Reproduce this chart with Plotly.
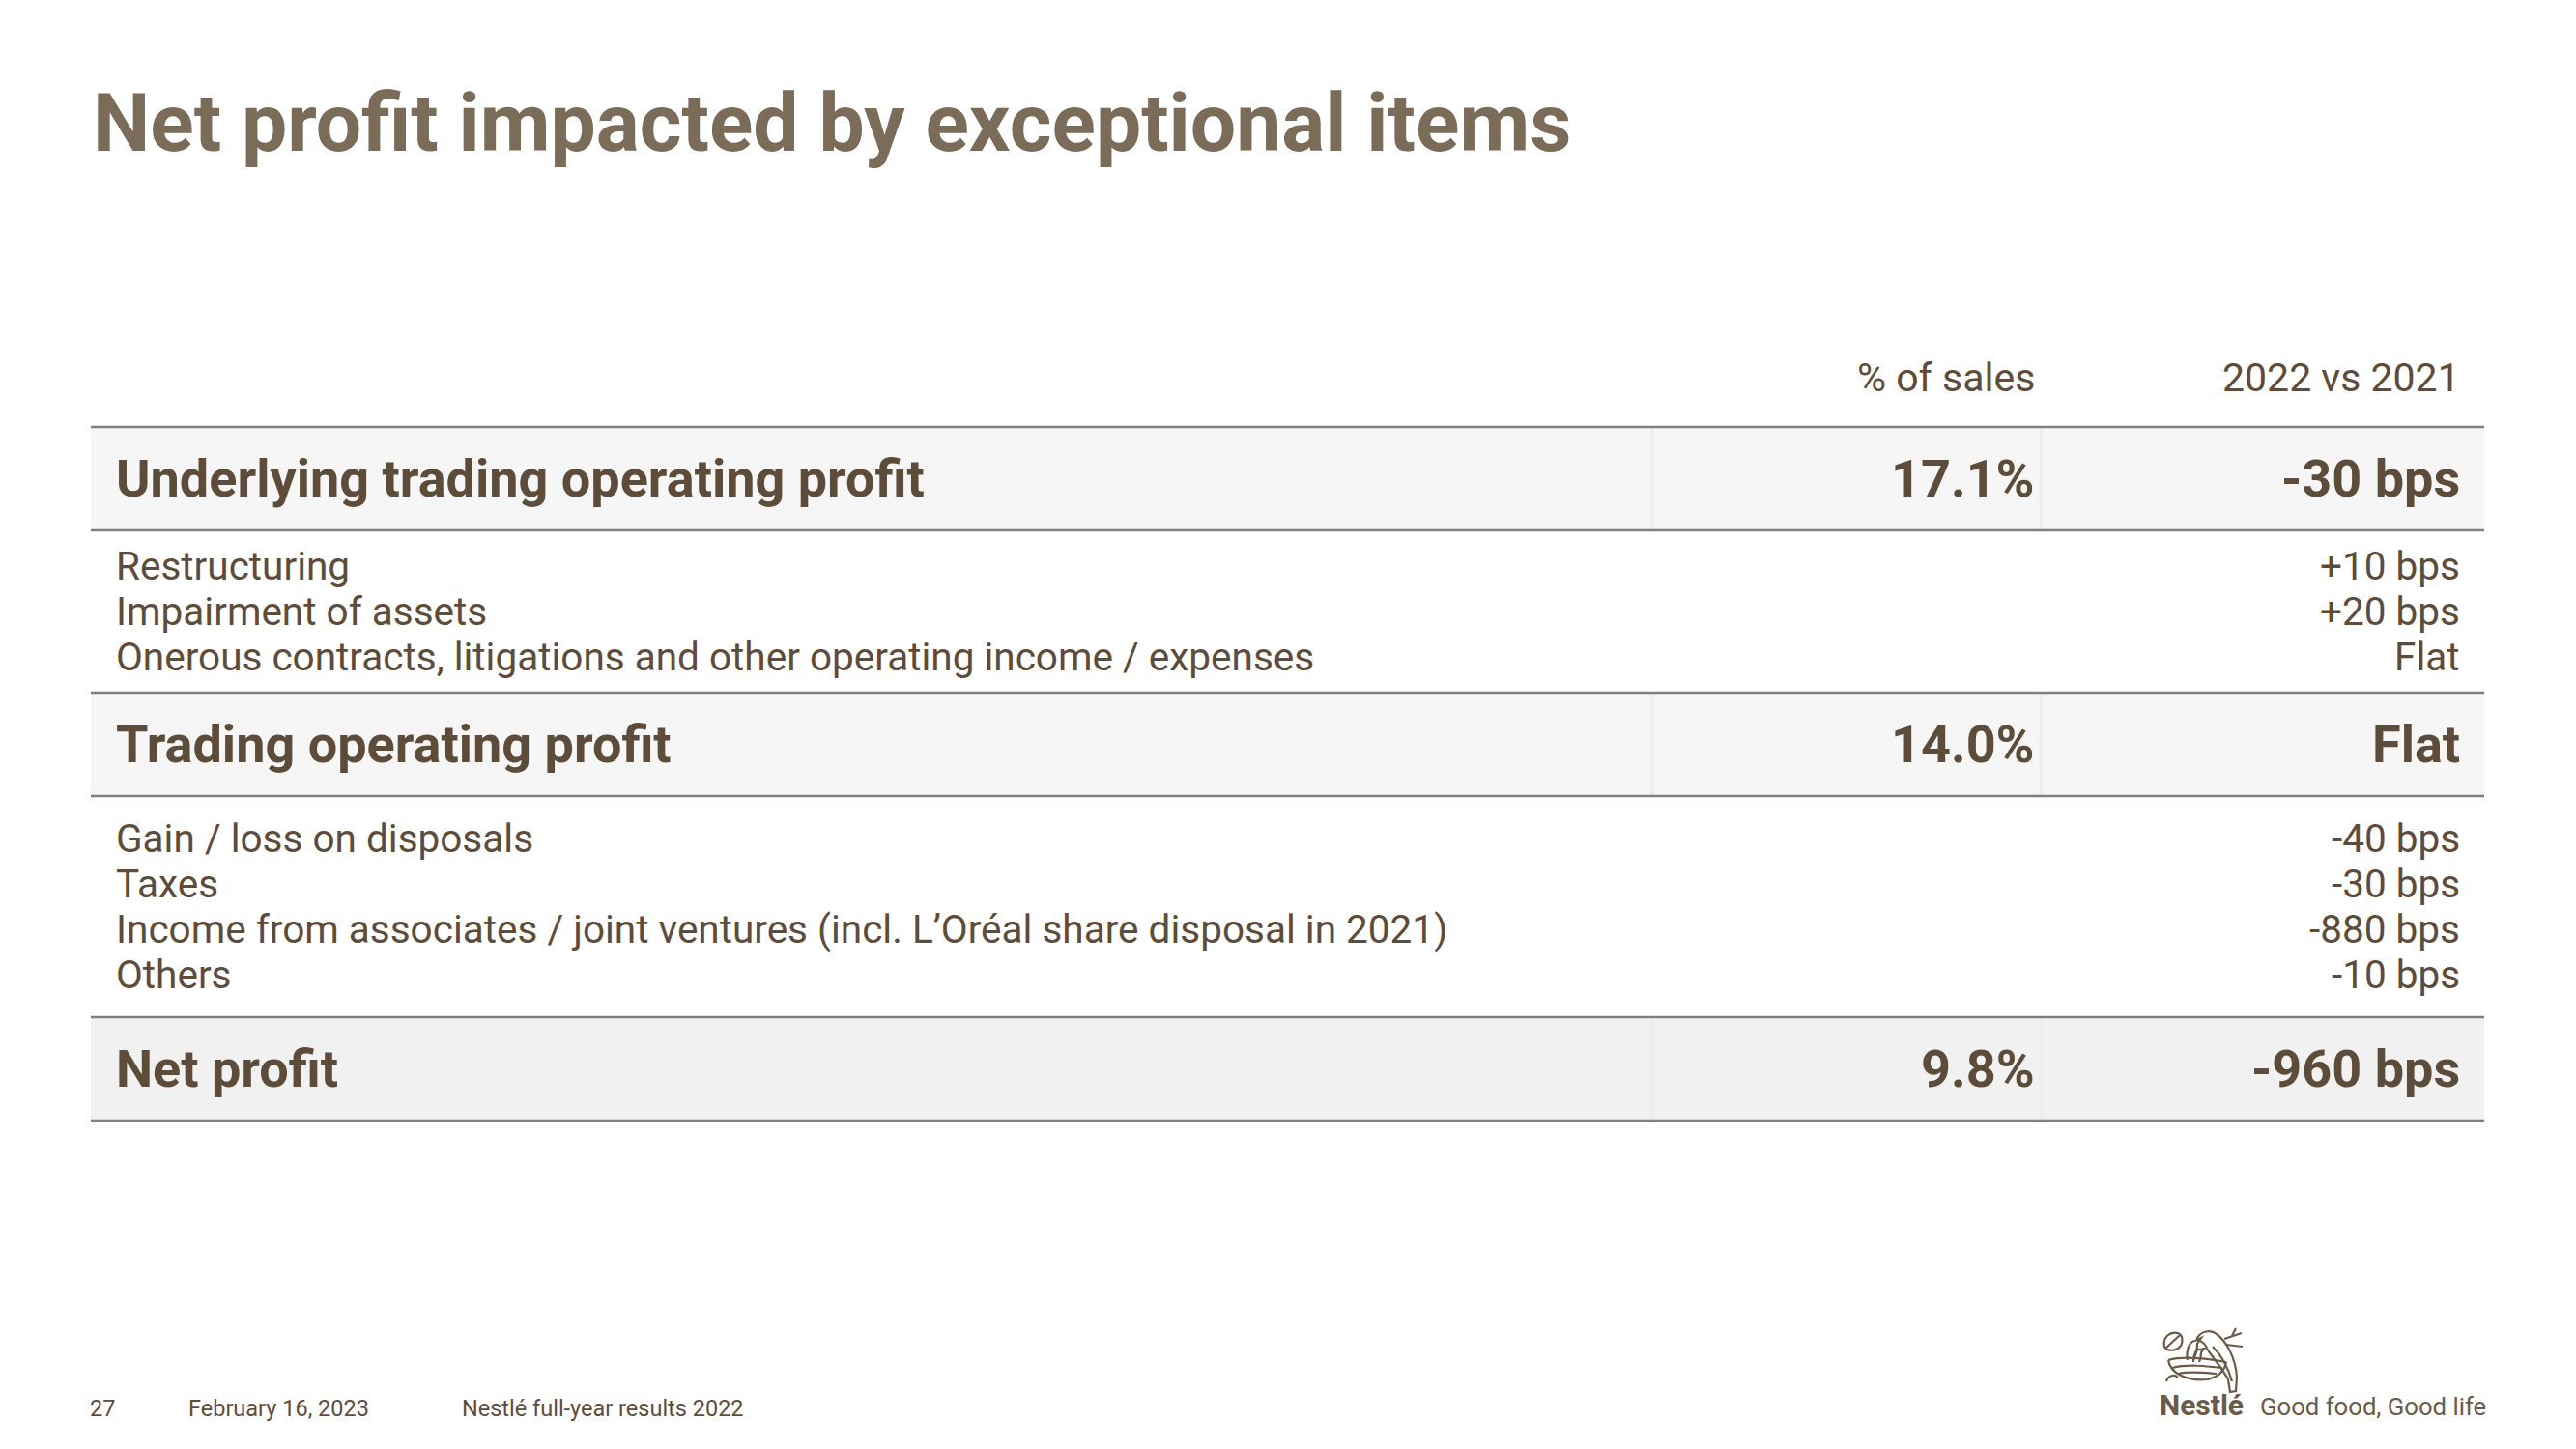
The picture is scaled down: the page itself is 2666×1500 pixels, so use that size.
import plotly.graph_objects as go

# ---------------- data ----------------
title_text = "Net profit impacted by exceptional items"
column_headers = ["% of sales", "2022 vs 2021"]

section_labels = ["Underlying trading operating profit", "Trading operating profit", "Net profit"]
section_pct_of_sales = ["17.1%", "14.0%", "9.8%"]
section_change = ["-30 bps", "Flat", "-960 bps"]

detail_labels_1 = ["Restructuring", "Impairment of assets",
                   "Onerous contracts, litigations and other operating income / expenses"]
detail_changes_1 = ["+10 bps", "+20 bps", "Flat"]
detail_labels_2 = ["Gain / loss on disposals", "Taxes",
                   "Income from associates / joint ventures (incl. L\u2019Oréal share disposal in 2021)",
                   "Others"]
detail_changes_2 = ["-40 bps", "-30 bps", "-880 bps", "-10 bps"]

footer_items = ["27", "February 16, 2023", "Nestlé full-year results 2022"]
brand_name = "Nestlé"
tagline = "Good food, Good life"

# ---------------- layout constants ----------------
W, H = 2666, 1500
OFF = 8  # default page body margin
FONT = "Roboto"
TITLE_COL = "#7b6b59"
TXT_COL = "#5e4c3b"
BRAND_COL = "#6b5a48"
LINE_COL = "#808080"
ROW_FILLS = ["#f6f6f6", "#f6f6f6", "#f1f1f1"]

LEFT, RIGHT = 94, 2571
TEXT_X = 118
PCT_X = 2108
CHG_X = 2548
COL_DIV = [1710, 2112]
TABLE_TOP = 442
MAIN_H = 107
SUB_H = [168, 229]
LINE_H = 47

fig = go.Figure()
fig.add_trace(go.Scatter(x=[OFF, W], y=[OFF, H], mode="markers",
                         marker=dict(opacity=0), hoverinfo="skip", showlegend=False))

annotations = []
shapes = []


def txt(x, y, s, size, color=TXT_COL, bold=False, xanchor="left", family=FONT):
    annotations.append(dict(
        x=x, y=y, xref="x", yref="y", text=(f"<b>{s}</b>" if bold else s),
        showarrow=False, xanchor=xanchor, yanchor="middle",
        font=dict(family=family, size=size, color=color)))


# title
txt(94, 127, title_text, 84, color=TITLE_COL, bold=True)

# column headers
txt(PCT_X, 391, column_headers[0], 41, xanchor="right")
txt(CHG_X, 391, column_headers[1], 41, xanchor="right")

details = [(detail_labels_1, detail_changes_1), (detail_labels_2, detail_changes_2)]

y = TABLE_TOP
for i, label in enumerate(section_labels):
    shapes.append(dict(type="rect", xref="x", yref="y", x0=LEFT, x1=RIGHT, y0=y, y1=y + MAIN_H,
                       fillcolor=ROW_FILLS[i], line=dict(width=0), layer="below"))
    for cx in COL_DIV:
        shapes.append(dict(type="line", xref="x", yref="y", x0=cx, x1=cx, y0=y, y1=y + MAIN_H,
                           line=dict(color="#ededed", width=3), layer="below"))
    shapes.append(dict(type="line", xref="x", yref="y", x0=LEFT, x1=RIGHT, y0=y, y1=y,
                       line=dict(color=LINE_COL, width=2.5)))
    cy = y + MAIN_H / 2
    txt(TEXT_X, cy, label, 54, bold=True)
    txt(PCT_X, cy, section_pct_of_sales[i], 54, bold=True, xanchor="right")
    txt(CHG_X, cy, section_change[i], 54, bold=True, xanchor="right")
    y += MAIN_H
    shapes.append(dict(type="line", xref="x", yref="y", x0=LEFT, x1=RIGHT, y0=y, y1=y,
                       line=dict(color=LINE_COL, width=2.5)))
    if i < len(details):
        labels, changes = details[i]
        n = len(labels)
        first = y + (SUB_H[i] - (n - 1) * LINE_H) / 2
        for k in range(n):
            ly = first + k * LINE_H
            txt(TEXT_X, ly, labels[k], 40.5)
            txt(CHG_X, ly, changes[k], 40.5, xanchor="right")
        y += SUB_H[i]

# footer
txt(91, 1458, footer_items[0], 23.5)
txt(193, 1458, footer_items[1], 23.5)
txt(476, 1458, footer_items[2], 23.5)

# brand
txt(2233, 1454, brand_name, 30, color=BRAND_COL, bold=True)
txt(2337, 1456, tagline, 25.7, color=BRAND_COL)

# nest logo sketch (local coords relative to logo origin)
LX, LY = 2228, 1372
logo_local = [
    "M46,13 C50,6 60,4 66,9 C76,16 86,34 87,54 L86,68 L80,69 L78,56 C72,44 62,34 56,24 C55,20 52,17 46,15 Z",
    "M62,22 C70,30 78,44 82,58",
    "M74,14 L92,8 M82,11 L86,3 M76,20 L93,22",
    "M12,22 C10,12 18,6 26,8 C32,10 32,20 26,24 C20,27 14,26 12,22 Z",
    "M13,24 L28,10",
    "M36,36 C34,26 38,16 44,16 L50,13 L46,19 C46,26 44,32 42,36",
    "M42,38 C42,30 45,24 49,25 L53,24 L50,28 C50,33 49,36 48,38",
    "M16,36 C30,32 54,34 76,38",
    "M16,36 C18,50 36,58 56,56 C66,54 74,48 76,38",
    "M20,44 C36,40 54,42 72,44",
    "M26,50 C40,47 54,49 66,50",
    "M14,58 C16,52 22,50 26,54",
]


def to_page(path):
    out = []
    for tok in path.split():
        if "," in tok:
            head = ""
            if tok[0].isalpha():
                head, tok = tok[0], tok[1:]
            a, b = tok.split(",")
            out.append(f"{head}{LX + float(a):.1f},{LY + float(b):.1f}")
        else:
            out.append(tok)
    return " ".join(out)


for p in logo_local:
    shapes.append(dict(type="path", xref="x", yref="y", path=to_page(p),
                       line=dict(color=BRAND_COL, width=2.2)))

fig.update_layout(
    width=W, height=H,
    margin=dict(l=0, r=0, t=0, b=0),
    paper_bgcolor="white", plot_bgcolor="white",
    xaxis=dict(range=[OFF, W + OFF], visible=False, fixedrange=True),
    yaxis=dict(range=[H + OFF, OFF], visible=False, fixedrange=True),
    annotations=annotations, shapes=shapes, showlegend=False,
)

fig.write_html("out.html")
